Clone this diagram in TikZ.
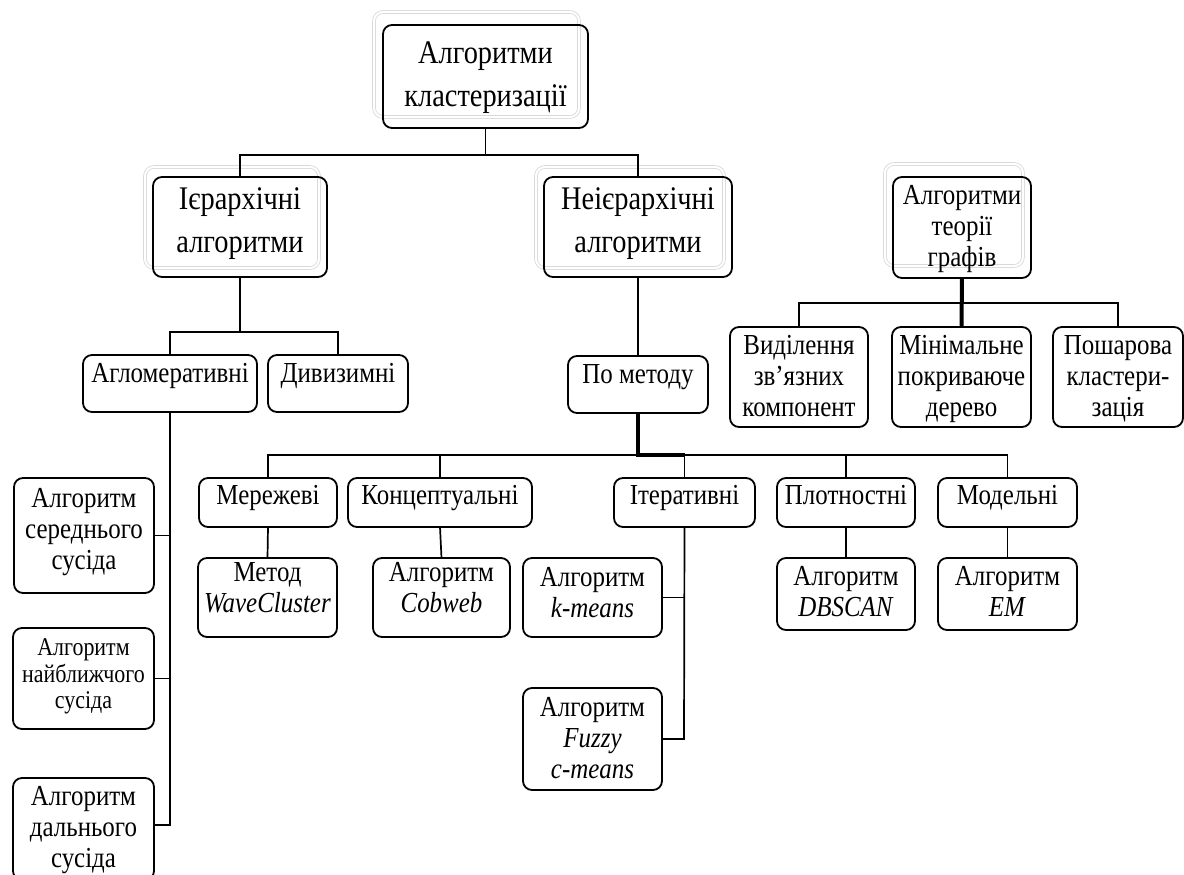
\documentclass[tikz,border=0pt]{standalone}
\usepackage{fontspec}
\setmainfont{Liberation Serif}[FakeStretch=0.86]
\tikzset{
  box/.style={draw, rounded corners=9pt, line width=1.8pt, inner sep=0pt, outer sep=0pt},
  shadowbox/.style={draw=gray!30, rounded corners=9pt, line width=0.8pt, double=white, double distance=2pt},
  big/.style={font=\fontsize{33}{43}\selectfont, align=center, inner sep=0pt, text=black},
  mid/.style={font=\fontsize{29}{31}\selectfont, align=center, inner sep=0pt, text=black},
  small/.style={font=\fontsize{25.5}{26}\selectfont, align=center, inner sep=0pt, text=black},
  conn/.style={line width=1.7pt},
  heavy/.style={line width=4pt},
}
\newcommand{\BX}[8]{%
  \node[box, minimum width=#4pt-#2pt, minimum height=#5pt-#3pt] (#1) at ({(#2+#4)/2},{(#3+#5)/2}) {};
  \node[#7] (#1-t) at ({(#2+#4)/2},#6) {\strut #8\strut};
}
\begin{document}
\begin{tikzpicture}[x=1pt,y=-1pt]
\path[use as bounding box] (0,0) rectangle (1184,875);
\clip (0,0) rectangle (1184,875);
% shadows
\draw[shadowbox] (374,12) rectangle (579,117);
\draw[shadowbox] (145,167) rectangle (319,268);
\draw[shadowbox] (536,167) rectangle (724,268);
\draw[shadowbox] (885,164) rectangle (1023,266);
% boxes
\BX{top}{383}{25}{588}{128}{76}{big}{Алгоритми\\кластеризації}
\BX{hier}{153}{177}{327}{277}{222}{big}{Ієрархічні\\алгоритми}
\BX{nonhier}{544}{177}{732}{277}{222}{big}{Неієрархічні\\алгоритми}
\BX{graph}{893}{177}{1031}{278}{229}{mid}{Алгоритми\\теорії\\графів}
\BX{vid}{730}{327}{868}{427}{379}{mid}{Виділення\\зв’язних\\компонент}
\BX{min}{892}{327}{1031}{427}{379}{mid}{Мінімальне\\покриваюче\\дерево}
\BX{posh}{1053}{327}{1183}{427}{379}{mid}{Пошарова\\кластери-\\зація}
\BX{aglo}{83}{355}{257}{412}{376}{mid}{Агломеративні}
\BX{divi}{268}{355}{408}{412}{376}{mid}{Дивизимні}
\BX{metod}{568}{356}{708}{413}{377}{mid}{По методу}
\BX{mer}{199}{478}{337}{527}{498}{mid}{Мережеві}
\BX{kon}{348}{478}{532}{527}{498}{mid}{Концептуальні}
\BX{iter}{614}{478}{755}{527}{498}{mid}{Ітеративні}
\BX{plot}{777}{478}{915}{527}{498}{mid}{Плотностні}
\BX{mod}{938}{478}{1077}{527}{498}{mid}{Модельні}
\BX{wave}{198}{558}{337}{637}{591}{mid}{Метод\\\textit{WaveCluster}}
\BX{cob}{373}{558}{510}{637}{591}{mid}{Алгоритм\\\textit{Cobweb}}
\BX{kmeans}{523}{558}{662}{637}{596}{mid}{Алгоритм\\\textit{k-means}}
\BX{fuzzy}{523}{688}{662}{790}{741}{mid}{Алгоритм\\\textit{Fuzzy}\\\textit{c-means}}
\BX{dbscan}{777}{558}{915}{630}{595}{mid}{Алгоритм\\\textit{DBSCAN}}
\BX{em}{938}{558}{1077}{630}{595}{mid}{Алгоритм\\\textit{EM}}
\BX{a1}{14}{478}{154}{593}{532}{mid}{Алгоритм\\середнього\\сусіда}
\BX{a2}{13}{628}{154}{729}{677}{small}{Алгоритм\\найближчого\\сусіда}
\BX{a3}{13}{778}{154}{880}{830}{mid}{Алгоритм\\дальнього\\сусіда}
% connectors
\coordinate (j1) at (487,155);
\draw[conn] (top.south) -- (top.south |- j1);
\draw[conn] (hier.north) |- (j1) -| (nonhier.north);
\coordinate (j2) at (240,332);
\draw[conn] (hier.south) -- (j2);
\draw[conn] (aglo.north) |- (j2) -| (divi.north);
\coordinate (a3c) at (170,825);
\draw[conn] (aglo.south) -- (a3c) -- (a3c -| a3.east);
\draw[conn] (a1.east) -- (a1.east -| aglo.south);
\draw[conn] (a2.east) -- (a2.east -| aglo.south);
\draw[conn] (nonhier.south) -- (metod.north);
\coordinate (j3) at (638,455);
\draw[conn] (mer.north) |- (j3 -| mod.north) -- (mod.north);
\draw[conn] (kon.north) -- (kon.north |- j3);
\draw[conn] (iter.north) -- (iter.north |- j3);
\draw[conn] (plot.north) -- (plot.north |- j3);
\draw[heavy] (metod.south) -- (j3) -- (j3 -| iter.north);
\draw[conn] (mer.south) -- (wave.north);
\draw[conn] (kon.south) -- (cob.north);
\coordinate (fc) at (684,739);
\draw[conn] (iter.south) -- (fc) -- (fc -| fuzzy.east);
\draw[conn] (kmeans.east) -- (kmeans.east -| iter.south);
\draw[conn] (plot.south) -- (dbscan.north);
\draw[conn] (mod.south) -- (em.north);
\coordinate (j4) at (962,303);
\draw[conn] (vid.north) |- (j4) -| (posh.north);
\draw[heavy] (graph.south) -- (min.north);
\end{tikzpicture}
\end{document}
